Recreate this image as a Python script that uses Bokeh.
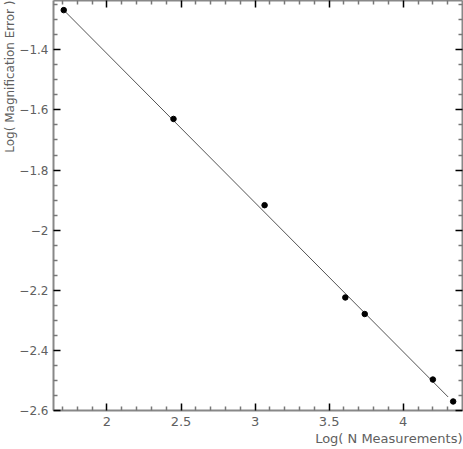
from bokeh.plotting import figure
from bokeh.models import LinearAxis, FixedTicker, Range1d, Title
from bokeh.embed import file_html
from bokeh.resources import INLINE

# data
log_n = [1.708, 2.449, 3.064, 3.609, 3.740, 4.200, 4.337]
log_err = [-1.268, -1.630, -1.917, -2.224, -2.279, -2.497, -2.570]
fit_x = [1.708, 4.303]
fit_y = [-1.268, -2.555]

x_ticks = [2, 2.5, 3, 3.5, 4]
x_tick_labels = ["2", "2.5", "3", "3.5", "4"]
x_minor = [1.7, 1.8, 1.9, 2.1, 2.2, 2.3, 2.4, 2.6, 2.7, 2.8, 2.9, 3.1, 3.2, 3.3, 3.4,
           3.6, 3.7, 3.8, 3.9, 4.1, 4.2, 4.3]
y_ticks = [-2.6, -2.4, -2.2, -2.0, -1.8, -1.6, -1.4]
y_tick_labels = ["\u22122.6", "\u22122.4", "\u22122.2", "\u22122", "\u22121.8", "\u22121.6", "\u22121.4"]
y_minor = [-2.55, -2.5, -2.45, -2.35, -2.3, -2.25, -2.15, -2.1, -2.05, -1.95, -1.9, -1.85,
           -1.75, -1.7, -1.65, -1.55, -1.5, -1.45, -1.35, -1.3, -1.25]
x_title = "Log( N Measurements)"
y_title = "Log( Magnification Error )"

FONT = "DejaVu Sans"
TXT = "#606060"

p = figure(width=463, height=449, output_backend="svg", toolbar_location=None,
           x_range=Range1d(1.639, 4.4), y_range=Range1d(-2.6, -1.236),
           x_axis_location=None, y_axis_location=None,
           min_border_left=52, min_border_right=1, min_border_top=0, min_border_bottom=39)
p.grid.visible = False
p.outline_line_color = None
p.background_fill_color = "white"

p.line(fit_x, fit_y, line_color="#404040", line_width=0.9)
p.scatter(log_n, log_err, size=5.5, color="black")


def style(ax, size="13px", standoff=6):
    ax.axis_line_color = "#888888"
    ax.axis_line_width = 2
    ax.major_tick_in = 7
    ax.major_tick_out = 0
    ax.minor_tick_in = 4
    ax.minor_tick_out = 0
    ax.major_tick_line_color = "black"
    ax.major_tick_line_width = 1.5
    ax.minor_tick_line_color = "#777777"
    ax.minor_tick_line_width = 1.5
    ax.major_label_text_font = FONT
    ax.major_label_text_font_size = size
    ax.major_label_text_color = TXT
    ax.major_label_standoff = standoff


xt = FixedTicker(ticks=x_ticks, minor_ticks=x_minor)
yt = FixedTicker(ticks=y_ticks, minor_ticks=y_minor)

xb = LinearAxis(ticker=xt)
style(xb, "13px", 6)
xb.major_label_overrides = {t: l for t, l in zip(x_ticks, x_tick_labels)}
p.add_layout(xb, "below")

yl = LinearAxis(ticker=yt)
style(yl, "12px", 5)
yl.major_label_overrides = {t: l for t, l in zip(y_ticks, y_tick_labels)}
p.add_layout(yl, "left")

xa = LinearAxis(ticker=xt)
style(xa, "0px", 0)
xa.major_label_overrides = {t: "" for t in x_ticks}
p.add_layout(xa, "above")

yr = LinearAxis(ticker=yt)
style(yr, "0px", 0)
yr.major_label_overrides = {t: "" for t in y_ticks}
p.add_layout(yr, "right")

p.add_layout(Title(text=x_title, align="right", text_font=FONT, text_font_size="13px",
                   text_font_style="normal", text_color=TXT, standoff=0, offset=0), "below")
p.add_layout(Title(text=y_title, align="right", text_font=FONT, text_font_size="12px",
                   text_font_style="normal", text_color=TXT, standoff=0, offset=0), "left")

open("out.html", "w").write(file_html(p, INLINE))
